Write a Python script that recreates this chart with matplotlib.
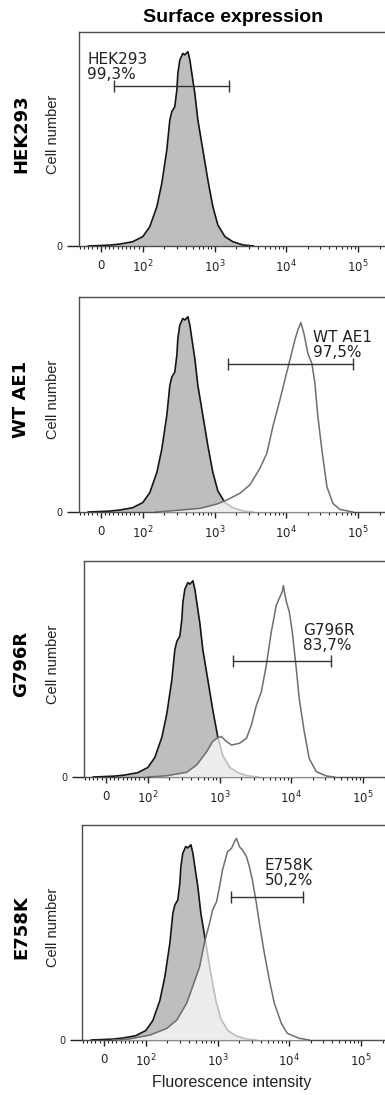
import matplotlib.pyplot as plt

# untransfected HEK293 control (grey), intensity vs cell number (% of axis height)
ctrl_x = [-30, 20, 45, 76, 100, 125, 157, 184, 216, 238, 254, 279, 298, 308, 328,
          361, 385, 411, 425, 453, 482, 531, 585, 687, 807, 947, 1112, 1393, 1800,
          2480, 3500]
ctrl_y = [0, 0.4, 0.9, 2.0, 4.4, 9.0, 18.4, 29.3, 44.9, 58.9, 62.8, 65.1, 72.9, 80.7,
          86.9, 90.0, 89.3, 90.3, 90.8, 86.9, 80.7, 71.3, 58.9, 44.9, 30.8, 18.4, 9.8,
          4.4, 2.0, 0.5, 0]

wt_x = [150, 262, 624, 1077, 1485, 2256, 3107, 4285, 5360, 6500, 8140, 9550, 11220,
        13180, 14520, 16000, 17600, 20000, 22750, 25060, 27600, 31400, 36840, 44700,
        55960, 84900]
wt_y = [0, 0.6, 1.7, 3.7, 5.6, 8.7, 12.6, 20.3, 27.3, 39.7, 52.1, 61.4, 70.7, 80.0,
        84.7, 88.1, 83.1, 73.8, 69.1, 59.9, 44.3, 28.8, 11.8, 4.0, 1.2, 0]

g796r_x = [100, 184, 348, 480, 660, 800, 938, 1066, 1251, 1468, 1897, 2373, 2782, 3266,
           3830, 4497, 5275, 6190, 6810, 7500, 7740, 8530, 9380, 10320, 11730, 12900,
           15160, 17780, 22250, 30620, 40000]
g796r_y = [0, 0.6, 2.2, 5.6, 11.7, 16.4, 18.2, 18.7, 16.4, 14.8, 15.6, 17.9, 24.1, 33.3,
           39.5, 51.9, 67.3, 79.6, 82.7, 85.8, 88.6, 81.2, 76.5, 67.3, 50.3, 36.4, 21.0,
           8.6, 2.5, 0.5, 0]

e758k_x = [20, 55, 114, 196, 270, 371, 449, 562, 660, 774, 853, 969, 1066, 1173, 1377,
           1564, 1721, 1836, 2022, 2225, 2529, 2782, 3060, 3480, 3830, 4497, 5275, 6190,
           7740, 9380, 13770, 18970]
e758k_y = [0, 0.3, 2.3, 5.4, 9.3, 17.1, 24.8, 34.1, 45.7, 54.3, 60.5, 64.3, 71.3, 79.1,
           87.6, 89.1, 92.2, 93.8, 89.9, 88.4, 85.3, 80.6, 74.4, 63.6, 54.3, 40.3, 27.9,
           17.1, 7.8, 3.1, 0.8, 0]

samples = [None, (wt_x, wt_y), (g796r_x, g796r_y), (e758k_x, e758k_y)]
row_names = ["HEK293", "WT AE1", "G796R", "E758K"]
gate_names = ["HEK293", "WT AE1", "G796R", "E758K"]
gate_pct = ["99,3%", "97,5%", "83,7%", "50,2%"]
gate_lo = [31, 1540, 1565, 1565]
gate_hi = [1585, 85000, 35900, 15600]
gate_y = [74.8, 68.8, 53.7, 66.5]

tick_vals = [0, 1e2, 1e3, 1e4, 1e5]
tick_labels = ["0", r"$10^2$", r"$10^3$", r"$10^4$", r"$10^5$"]
minor_vals = [-50, -40, -30, -20, -10] + [10 * k for k in range(1, 10)]
for dec in [100, 1000, 10000]:
    minor_vals += [dec * k for k in range(2, 10)]
minor_vals += [200000]

# layout in pixels
W, H = 385, 1095
lefts = [79, 79, 84, 82]
tops = [32, 297, 561, 825]
bottoms = [246, 512, 777, 1040]
box_w = 309
text_pos = [(0.026, 0.907), (0.757, 0.847), (0.709, 0.713), (0.592, 0.847)]

fig = plt.figure(figsize=(W / 100, H / 100), dpi=100)

for i in range(4):
    ax = fig.add_axes([lefts[i] / W, 1 - bottoms[i] / H, box_w / W,
                       (bottoms[i] - tops[i]) / H])
    ax.fill_between(ctrl_x, ctrl_y, color="#bebebe", lw=0, zorder=1)
    ax.plot(ctrl_x, ctrl_y, color="#151515", lw=1.2, zorder=2)
    if samples[i] is not None:
        sx, sy = samples[i]
        ax.fill_between(sx, sy, color="white", alpha=0.72, lw=0, zorder=3)
        ax.plot(sx, sy, color="#6e6e6e", lw=1.1, zorder=4)

    ax.plot([gate_lo[i], gate_hi[i]], [gate_y[i], gate_y[i]], color="#333333",
            lw=1.0, marker="|", ms=8, mew=1.0, zorder=5)
    tx, ty = text_pos[i]
    ax.text(tx, ty, gate_names[i] + "\n" + gate_pct[i], transform=ax.transAxes,
            ha="left", va="top", fontsize=11, color="#222222",
            family="DejaVu Sans", linespacing=1.0)

    ax.set_xscale("symlog", linthresh=100, linscale=0.527)
    ax.set_xlim(-52, 262144)
    ax.set_ylim(0, 100)
    ax.set_xticks(tick_vals)
    ax.set_xticklabels(tick_labels, fontsize=8.5, family="DejaVu Sans")
    ax.set_xticks(minor_vals, minor=True)
    ax.set_yticks([0])
    ax.set_yticklabels(["0"], fontsize=7)
    ax.tick_params(axis="x", which="major", length=4.5, width=1, pad=5, colors="#222222")
    ax.tick_params(axis="x", which="minor", length=2.5, width=0.8, color="#222222")
    ax.tick_params(axis="y", length=9, width=1, pad=3, colors="#222222")
    for s in ax.spines.values():
        s.set_color("#4d4d4d")
        s.set_linewidth(1.0)
    ax.spines["right"].set_visible(False)

    yc = 1 - ((tops[i] + bottoms[i]) / 2 - 5) / H
    fig.text(21 / W, yc, row_names[i], rotation=90, ha="center", va="center",
             fontsize=13, fontweight="bold", family="DejaVu Sans")
    fig.text(53 / W, yc, "Cell number", rotation=90, ha="center", va="center",
             fontsize=10.5, family="Liberation Sans", color="#222222")

fig.text(233 / W, 1 - 17 / H, "Surface expression", ha="center", va="center",
         fontsize=14, fontweight="bold", family="Liberation Sans")
fig.text(232 / W, 1 - 1083 / H, "Fluorescence intensity", ha="center", va="center",
         fontsize=11.5, family="Liberation Sans", color="#222222")

fig.savefig("out.png", dpi=100)
